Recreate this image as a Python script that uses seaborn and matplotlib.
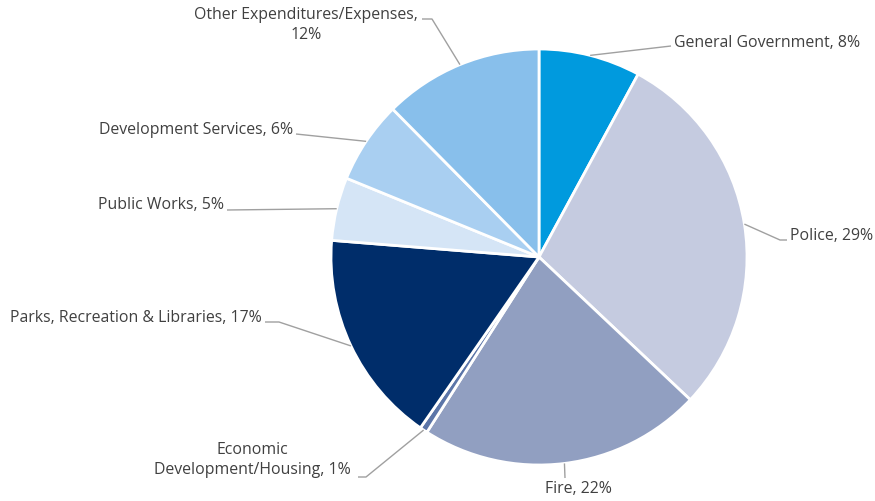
import matplotlib
matplotlib.use("Agg")
import matplotlib.pyplot as plt
import numpy as np
import seaborn as sns

# Budget share by department (percent)
categories = [
    "General Government",
    "Police",
    "Fire",
    "Economic\nDevelopment/Housing",
    "Parks, Recreation & Libraries",
    "Public Works",
    "Development Services",
    "Other Expenditures/Expenses,\n",
]
shares = [7.9, 29.1, 22.0, 0.6, 16.6, 4.9, 6.4, 12.4]
colors = ["#009ADE", "#C5CBE0", "#919FC1", "#5B75A8",
          "#002D6A", "#D5E5F6", "#A9CFF1", "#88BFEB"]

sns.set_theme(style="white")
plt.rcParams["font.family"] = ["Open Sans", "DejaVu Sans"]

W, H = 875, 501
fig = plt.figure(figsize=(W / 100, H / 100), dpi=100)
ax = fig.add_axes([0, 0, 1, 1])


def Y(y):
    return H - y


cx, cy, R = 539, Y(257), 208
wedges, _ = ax.pie(shares, colors=colors, startangle=90, counterclock=False,
                   center=(cx, cy), radius=R, frame=True,
                   wedgeprops=dict(edgecolor="white", linewidth=2))
ax.set_xlim(0, W)
ax.set_ylim(0, H)
ax.set_aspect("equal")
ax.axis("off")

# label placement: (text x, text y, alignment, leader-line waypoints)
layout = [
    (674, 43, "left", [(671, 46)]),
    (790, 236, "left", [(787, 240), (780, 240)]),
    (578, 489, "center", [(565, 478)]),
    (252, 460, "center", [(358, 477), (366, 477)]),
    (262, 318, "right", [(265, 322), (279, 322)]),
    (224, 205, "right", [(227, 210)]),
    (293, 130, "right", [(296, 134)]),
    (306, 25, "center", [(422, 19), (432, 19)]),
]

text_color = "#404040"
line_color = "#A0A0A0"
for w, name, val, (tx, ty, ha, pts) in zip(wedges, categories, shares, layout):
    mid = np.deg2rad((w.theta1 + w.theta2) / 2)
    ex, ey = cx + R * np.cos(mid), cy + R * np.sin(mid)
    xs = [p[0] for p in pts] + [ex]
    ys = [Y(p[1]) for p in pts] + [ey]
    ax.plot(xs, ys, color=line_color, lw=1, solid_capstyle="butt")
    if name.endswith("\n"):
        label = f"{name}{val:.0f}%"
    else:
        label = f"{name}, {val:.0f}%"
    ax.text(tx, Y(ty), label, ha=ha, va="center", multialignment="center",
            fontsize=11.4, color=text_color, linespacing=1.32)

fig.savefig("out.png", dpi=100, facecolor="white")
